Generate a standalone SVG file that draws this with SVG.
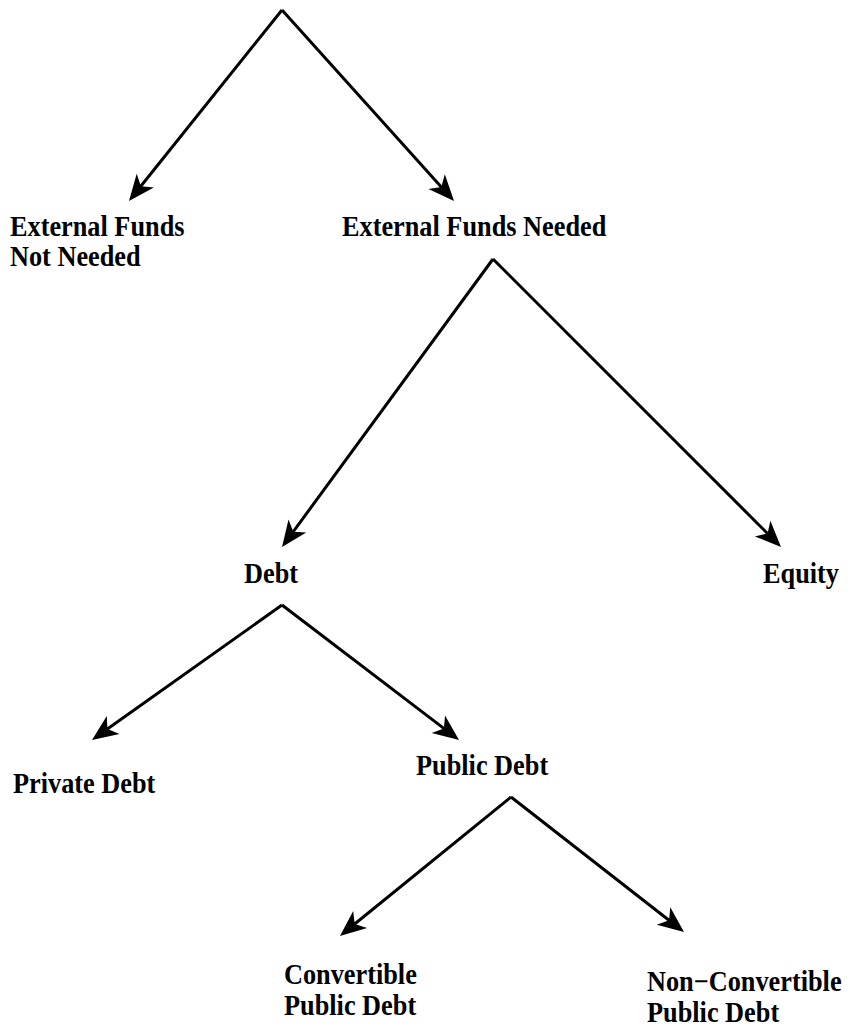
<svg xmlns="http://www.w3.org/2000/svg" width="850" height="1029" viewBox="0 0 850 1029">
<style>
  text { font-family: "Liberation Serif", "Times New Roman", serif; font-weight: bold; font-size: 26.3px; fill: #000; }
  .edge { stroke: #000; stroke-width: 3; fill: none; marker-end: url(#arrow); }
</style>
<defs>
  <marker id="arrow" markerUnits="userSpaceOnUse" viewBox="-14 -12 30 24" markerWidth="30" markerHeight="24" refX="0" refY="0" orient="auto">
    <path d="M15,0 L-11,-11 L-4,0 L-11,11 Z" fill="#000"/>
  </marker>
</defs>
<rect width="850" height="1029" fill="#fff"/>
<g id="connectors">
  <line class="edge" x1="282" y1="10" x2="138.4" y2="189.3"/>
  <line class="edge" x1="282" y1="10" x2="444" y2="189.9"/>
  <line class="edge" x1="493" y1="259" x2="290.9" y2="534.9"/>
  <line class="edge" x1="493" y1="259" x2="770.4" y2="536.4"/>
  <line class="edge" x1="282" y1="605" x2="104.2" y2="731.3"/>
  <line class="edge" x1="282" y1="605" x2="447.1" y2="730.9"/>
  <line class="edge" x1="511" y1="797" x2="351.6" y2="926.5"/>
  <line class="edge" x1="511" y1="797" x2="672.2" y2="922.8"/>
</g>
<g id="node-not-needed">
  <text transform="translate(10,236) scale(1,1.1)">External Funds</text>
  <text transform="translate(10,266) scale(1,1.1)">Not Needed</text>
</g>
<g id="node-needed">
  <text transform="translate(342,236) scale(1,1.1)">External Funds Needed</text>
</g>
<g id="node-debt">
  <text transform="translate(244,583) scale(1,1.1)">Debt</text>
</g>
<g id="node-equity">
  <text transform="translate(763,583) scale(1,1.1)">Equity</text>
</g>
<g id="node-private-debt">
  <text transform="translate(13,793) scale(1,1.1)">Private Debt</text>
</g>
<g id="node-public-debt">
  <text transform="translate(416,775) scale(1,1.1)">Public Debt</text>
</g>
<g id="node-convertible">
  <text transform="translate(284,984) scale(1,1.1)">Convertible</text>
  <text transform="translate(284,1015) scale(1,1.1)">Public Debt</text>
</g>
<g id="node-non-convertible">
  <text transform="translate(647,991) scale(1,1.1)">Non−Convertible</text>
  <text transform="translate(647,1022) scale(1,1.1)">Public Debt</text>
</g>
</svg>
